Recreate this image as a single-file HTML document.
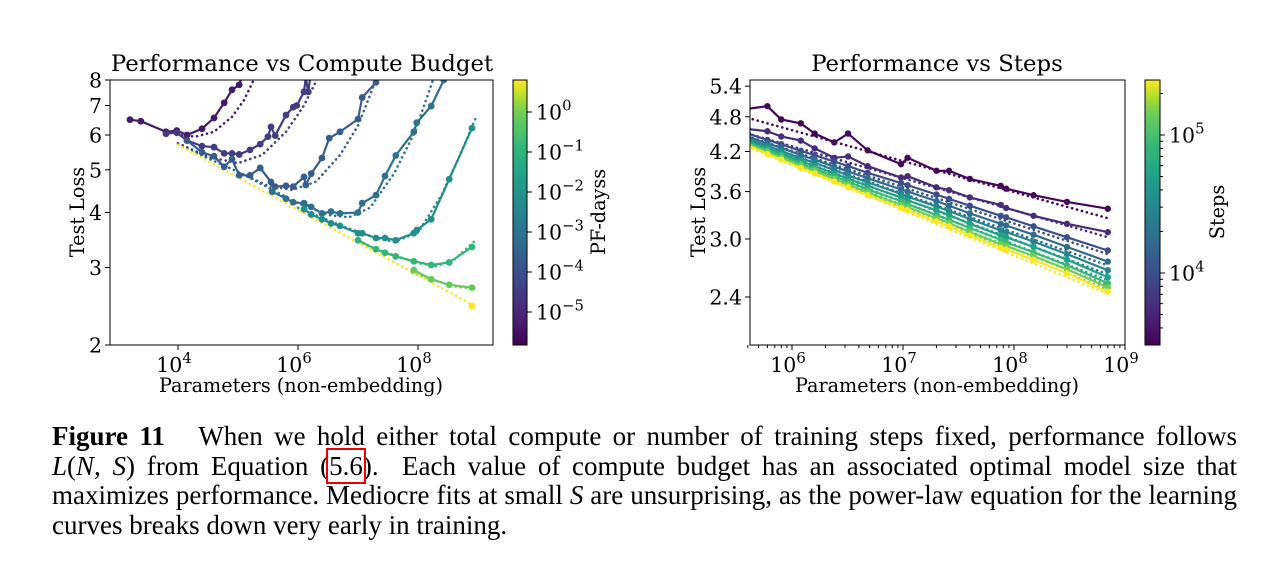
<!DOCTYPE html>
<html><head><meta charset="utf-8">
<style>
html,body{margin:0;padding:0;background:#fff;}
#wrap{position:relative;width:1280px;height:563px;overflow:hidden;background:#fff;}
svg text{font-family:"DejaVu Serif","Liberation Serif",serif;fill:#000;}
.cap{position:absolute;left:52px;width:1185px;font-family:"Liberation Serif",serif;font-size:27px;line-height:29.5px;white-space:nowrap;}
.j{text-align:justify;text-align-last:justify;white-space:normal;}
</style></head><body>
<div id="wrap">
<svg id="svg" width="1280" height="563">
<defs>
<linearGradient id="vir" x1="0" y1="1" x2="0" y2="0">
<stop offset="0" stop-color="#440154"/><stop offset="0.125" stop-color="#482878"/><stop offset="0.25" stop-color="#3e4989"/><stop offset="0.375" stop-color="#31688e"/><stop offset="0.5" stop-color="#26828e"/><stop offset="0.625" stop-color="#1f9e89"/><stop offset="0.75" stop-color="#35b779"/><stop offset="0.875" stop-color="#6ece58"/><stop offset="0.94" stop-color="#b5de2b"/><stop offset="1" stop-color="#fde725"/>
</linearGradient>
<clipPath id="clipL"><rect x="110" y="80" width="383" height="265"/></clipPath>
<clipPath id="clipR"><rect x="750" y="80" width="375" height="265"/></clipPath>
</defs>
<g id="left"></g>
<g id="right"></g>
</svg>
<div class="cap j" style="top:422px"><b>Figure 11</b>&nbsp;&nbsp; When we hold either total compute or number of training steps fixed, performance follows</div>
<div class="cap j" style="top:451.5px"><i>L</i>(<i>N, S</i>) from Equation (<span style="outline:2px solid #e00;outline-offset:1px">5.6</span>).&nbsp; Each value of compute budget has an associated optimal model size that</div>
<div class="cap j" style="top:481px">maximizes performance. Mediocre fits at small <i>S</i> are unsurprising, as the power-law equation for the learning</div>
<div class="cap" style="top:510.5px">curves breaks down very early in training.</div>
</div>
<script>
// ---------- LEFT CHART DATA (log10 N, loss) ----------
const computeColors = [0.08, 0.2, 0.33, 0.42, 0.56, 0.74, 0.86, 1.0];
const c0N = [3.2,3.38,3.8,3.98,4.15,4.4,4.6,4.77,4.9,5.02,5.1];
const c0L = [6.5,6.45,6.1,6.14,6.0,6.2,6.56,7.1,7.6,7.8,8.4];
const c1N = [3.8,3.98,4.15,4.4,4.6,4.77,4.9,5.02,5.2,5.37,5.5,5.55,5.62,5.8,5.92,5.98,6.1,6.13,6.17,6.22];
const c1L = [6.04,6.07,5.83,5.66,5.63,5.45,5.45,5.42,5.55,5.72,5.95,6.26,5.98,6.66,6.94,7.0,7.52,8.1,7.52,8.4];
const c2N = [4.15,4.4,4.6,4.77,4.9,5.02,5.2,5.37,5.55,5.62,5.8,5.92,6.1,6.13,6.22,6.4,6.52,6.7,7.0,7.07,7.3];
const c2L = [5.83,5.48,5.37,5.08,5.29,4.86,4.86,5.05,4.69,4.58,4.6,4.58,4.82,4.62,4.9,5.32,5.9,6.1,6.52,7.3,7.9];
const c3N = [5.57,5.8,5.92,6.1,6.22,6.4,6.55,6.7,7.0,7.07,7.3,7.45,7.63,7.93,7.98,8.22,8.43];
const c3L = [4.46,4.3,4.22,4.2,4.12,3.98,4.02,3.98,4.0,4.2,4.38,4.84,5.39,6.1,6.4,6.98,8.0];
const c4N = [6.1,6.22,6.4,6.55,6.7,7.0,7.07,7.3,7.45,7.63,7.93,7.98,8.22,8.52,8.9];
const c4L = [4.07,3.96,3.86,3.78,3.73,3.59,3.59,3.5,3.5,3.46,3.59,3.65,3.86,4.76,6.22];
const c5N = [7.0,7.3,7.45,7.63,7.93,8.22,8.52,8.9];
const c5L = [3.46,3.3,3.24,3.18,3.1,3.04,3.08,3.34];
const c6N = [7.93,8.22,8.52,8.9];
const c6L = [2.96,2.82,2.74,2.7];
const c7N = [8.9];
const c7L = [2.45];
const f0N=[3.98,4.3,4.6,4.9,5.1,5.3], f0L=[6.0,5.95,6.1,6.6,7.2,8.2];
const f1N=[4.0,4.5,5.0,5.4,5.8,6.1,6.35], f1L=[5.75,5.35,5.18,5.4,6.1,7.0,8.2];
const f2N=[4.0,5.0,5.5,5.9,6.3,6.7,7.0,7.3], f2L=[5.7,4.95,4.6,4.5,4.7,5.4,6.3,8.0];
const f3N=[5.0,6.0,6.5,6.85,7.2,7.6,7.95,8.25], f3L=[4.95,4.2,3.95,3.9,4.1,4.9,6.1,8.0];
const f4N=[6.0,6.8,7.3,7.6,8.0,8.4,8.7,8.97], f4L=[4.1,3.7,3.5,3.43,3.6,4.4,5.4,6.6];
const f5N=[7.0,7.6,8.0,8.3,8.6,8.95], f5L=[3.42,3.2,3.07,3.02,3.12,3.45];
const f6N=[7.9,8.3,8.6,8.95], f6L=[2.92,2.8,2.72,2.68];
const envN=[4.0,8.95], envL=[5.7,2.45];
const leftYTicks=[2,3,4,5,6,7,8];
const leftXTicks=[4,6,8];
const pfTicks=[0,-1,-2,-3,-4,-5];

// ---------- RIGHT CHART DATA ----------
const stepN=[4e5,6e5,8e5,1.2e6,1.6e6,2.4e6,3.2e6,4.8e6,9.6e6,1.1e7,2e7,2.6e7,4e7,7.6e7,8.5e7,1.5e8,3e8,7e8];
const stepColors=[0.02,0.14,0.28,0.40,0.52,0.64,0.76,0.88,1.0];
const s0=[4.95,5.0,4.75,4.68,4.5,4.35,4.5,4.22,4.0,4.1,3.9,3.9,3.78,3.68,3.64,3.55,3.46,3.37];
const s1=[4.58,4.54,4.45,4.38,4.25,4.1,4.12,3.97,3.8,3.82,3.66,3.62,3.52,3.42,3.38,3.28,3.18,3.08];
const s2=[4.50,4.39,4.32,4.21,4.14,4.04,3.97,3.87,3.72,3.69,3.56,3.50,3.41,3.28,3.26,3.15,3.02,2.87];
const s3=[4.45,4.33,4.26,4.14,4.07,3.96,3.89,3.79,3.63,3.60,3.47,3.41,3.31,3.18,3.16,3.05,2.91,2.75];
const s4=[4.41,4.29,4.21,4.09,4.02,3.91,3.83,3.73,3.57,3.53,3.40,3.34,3.24,3.10,3.08,2.97,2.83,2.66];
const s5=[4.38,4.25,4.17,4.05,3.97,3.86,3.78,3.68,3.52,3.48,3.35,3.29,3.18,3.04,3.02,2.91,2.77,2.59];
const s6=[4.35,4.22,4.14,4.01,3.93,3.82,3.74,3.63,3.47,3.43,3.29,3.23,3.13,2.99,2.96,2.85,2.71,2.53];
const s7=[4.32,4.19,4.10,3.98,3.90,3.78,3.70,3.59,3.42,3.39,3.25,3.19,3.08,2.94,2.92,2.81,2.67,2.49];
const s8=[4.30,4.16,4.07,3.94,3.86,3.74,3.66,3.55,3.38,3.35,3.21,3.15,3.04,2.90,2.88,2.77,2.63,2.45];
const fitStart=[4.78,4.5,4.45,4.4,4.37,4.34,4.31,4.29,4.27];
const fitEnd=[3.25,3.02,2.83,2.71,2.62,2.56,2.51,2.47,2.43];
const fitN=[4e5,7e8];
const rightYTicks=[2.4,3.0,3.6,4.2,4.8,5.4];
const rightXTicks=[6,7,8,9];
const stepTicks=[4,5];

// ---------- helpers ----------
const NS='http://www.w3.org/2000/svg';
const DOT={'stroke-width':2.6,'stroke-dasharray':'0.1,5','stroke-linecap':'round',fill:'none'};
function mk(tag,attrs,parent){const e=document.createElementNS(NS,tag);for(const k in attrs)e.setAttribute(k,attrs[k]);if(parent)parent.appendChild(e);return e;}
const VS=[[0,[68,1,84]],[0.125,[72,40,120]],[0.25,[62,73,137]],[0.375,[49,104,142]],[0.5,[38,130,142]],[0.625,[31,158,137]],[0.75,[53,183,121]],[0.875,[110,206,88]],[0.94,[181,222,43]],[1,[253,231,37]]];
function vir(t){for(let i=1;i<VS.length;i++){if(t<=VS[i][0]){const a=VS[i-1],b=VS[i];const u=(t-a[0])/(b[0]-a[0]);const c=a[1].map((v,j)=>Math.round(v+(b[1][j]-v)*u));return 'rgb('+c.join(',')+')';}}return 'rgb(253,231,37)';}
function sup(parent,x,y,base,exp,anchor,size,name){const t=mk('text',{x:x,y:y,'text-anchor':anchor,'font-size':size},parent);t.appendChild(document.createTextNode(base));const s=mk('tspan',{dy:-size*0.45,'font-size':size*0.72},t);s.textContent=exp;return t;}
function dotted(d,col,parent){const p=mk('path',Object.assign({d:d,stroke:col},DOT),parent);return p;}

// ---------- LEFT ----------
const L=document.getElementById('left');
const lx=v=>178+60*(v-4);
const ly=v=>345-265*Math.log(v/2)/Math.log(4);
const lplot=mk('g',{'clip-path':'url(#clipL)'},L);


function lpath(N,Lv){return N.map((n,i)=>(i?'L':'M')+lx(n).toFixed(1)+','+ly(Lv[i]).toFixed(1)).join('');}
const fitsN=[f0N,f1N,f2N,f3N,f4N,f5N,f6N], fitsL=[f0L,f1L,f2L,f3L,f4L,f5L,f6L];
fitsN.forEach((N,i)=>{const p=dotted(lpath(N,fitsL[i]),vir(computeColors[i]),lplot);

});
const env=dotted(lpath(envN,envL),vir(1),lplot);


const curN=[c0N,c1N,c2N,c3N,c4N,c5N,c6N,c7N], curL=[c0L,c1L,c2L,c3L,c4L,c5L,c6L,c7L];
curN.forEach((N,i)=>{const col=vir(computeColors[i]);const g=mk('g',{},lplot);


if(N.length>1)mk('path',{d:lpath(N,curL[i]),fill:'none',stroke:col,'stroke-width':2.2},g);
N.forEach((n,j)=>{const c=mk('circle',{cx:lx(n),cy:ly(curL[i][j]),r:3.4,fill:col},g);

});});
const lf=mk('rect',{x:110,y:80,width:383,height:265,fill:'none',stroke:'#000','stroke-width':1},L);


leftYTicks.forEach(v=>{const y=ly(v);mk('line',{x1:105,x2:110,y1:y,y2:y,stroke:'#000'},L);
const t=mk('text',{x:102,y:y+7.5,'text-anchor':'end','font-size':20.5},L);t.textContent=v;

});
leftXTicks.forEach(v=>{const x=lx(v);mk('line',{x1:x,x2:x,y1:345,y2:350,stroke:'#000'},L);
sup(L,x-4,372,'10',String(v),'middle',20.5,'compute-x-tick');});
const lt=mk('text',{x:302,y:71,'text-anchor':'middle','font-size':22.8},L);lt.textContent='Performance vs Compute Budget';


const lxl=mk('text',{x:301,y:392,'text-anchor':'middle','font-size':19.2},L);lxl.textContent='Parameters (non-embedding)';


const lyl=mk('text',{x:0,y:0,'text-anchor':'middle','font-size':19.2,transform:'translate(84,212) rotate(-90)'},L);lyl.textContent='Test Loss';


const cb1=mk('rect',{x:513,y:80,width:14,height:265,fill:'url(#vir)',stroke:'#000','stroke-width':1},L);


const pfy=e=>112+40*(-e);
pfTicks.forEach(e=>{const y=pfy(e);mk('line',{x1:527,x2:532,y1:y,y2:y,stroke:'#000'},L);
sup(L,536,y+7.5,'10',e===0?'0':'\u2212'+(-e),'start',20.5,'pf-days-tick');});
const pfl=mk('text',{x:0,y:0,'text-anchor':'middle','font-size':19.2,transform:'translate(605,212) rotate(-90)'},L);pfl.textContent='PF-dayss';



// ---------- RIGHT ----------
const R=document.getElementById('right');
const rx=v=>792+111*(Math.log10(v)-6);
const ry=v=>297-260*Math.log(v/2.4);
const rplot=mk('g',{'clip-path':'url(#clipR)'},R);


const series=[s0,s1,s2,s3,s4,s5,s6,s7,s8];
fitStart.forEach((s,i)=>{const p=dotted('M'+rx(fitN[0])+','+ry(s)+'L'+rx(fitN[1])+','+ry(fitEnd[i]),vir(stepColors[i]),rplot);

});
series.forEach((S,i)=>{const col=vir(stepColors[i]);const g=mk('g',{},rplot);


mk('path',{d:S.map((v,j)=>(j?'L':'M')+rx(stepN[j]).toFixed(1)+','+ry(v).toFixed(1)).join(''),fill:'none',stroke:col,'stroke-width':2.2},g);
S.forEach((v,j)=>{const c=mk('circle',{cx:rx(stepN[j]),cy:ry(v),r:3.2,fill:col},g);

});});
const rf=mk('rect',{x:750,y:80,width:375,height:265,fill:'none',stroke:'#000','stroke-width':1},R);


rightYTicks.forEach(v=>{const y=ry(v);mk('line',{x1:745,x2:750,y1:y,y2:y,stroke:'#000'},R);
const t=mk('text',{x:742,y:y+7.5,'text-anchor':'end','font-size':20.5},R);t.textContent=v.toFixed(1);

});
for(let d=5;d<9;d++)for(let m=2;m<10;m++){const v=m*Math.pow(10,d);if(v<4e5)continue;const x=rx(v);mk('line',{x1:x,x2:x,y1:345,y2:348,stroke:'#000'},R);}
rightXTicks.forEach(v=>{const x=792+111*(v-6);mk('line',{x1:x,x2:x,y1:345,y2:350,stroke:'#000'},R);
sup(R,x-4,372,'10',String(v),'middle',20.5,'steps-x-tick');});
const rt=mk('text',{x:937,y:71,'text-anchor':'middle','font-size':22.8},R);rt.textContent='Performance vs Steps';


const rxl=mk('text',{x:937,y:392,'text-anchor':'middle','font-size':19.2},R);rxl.textContent='Parameters (non-embedding)';


const ryl=mk('text',{x:0,y:0,'text-anchor':'middle','font-size':19.2,transform:'translate(705,212) rotate(-90)'},R);ryl.textContent='Test Loss';


const cb2=mk('rect',{x:1145,y:80,width:15,height:265,fill:'url(#vir)',stroke:'#000','stroke-width':1},R);


const sy=e=>273-138*(e-4);
for(let e=3;e<6;e++)for(let m=1;m<10;m++){const lv=e+Math.log10(m);const y=sy(lv);if(y<80||y>345)continue;mk('line',{x1:1160,x2:m===1?1165:1163,y1:y,y2:y,stroke:'#000'},R);}
stepTicks.forEach(e=>{sup(R,1169,sy(e)+7.5,'10',String(e),'start',20.5,'steps-colorbar-tick');});
const sl=mk('text',{x:0,y:0,'text-anchor':'middle','font-size':19.2,transform:'translate(1224,212) rotate(-90)'},R);sl.textContent='Steps';


</script>
</body></html>
